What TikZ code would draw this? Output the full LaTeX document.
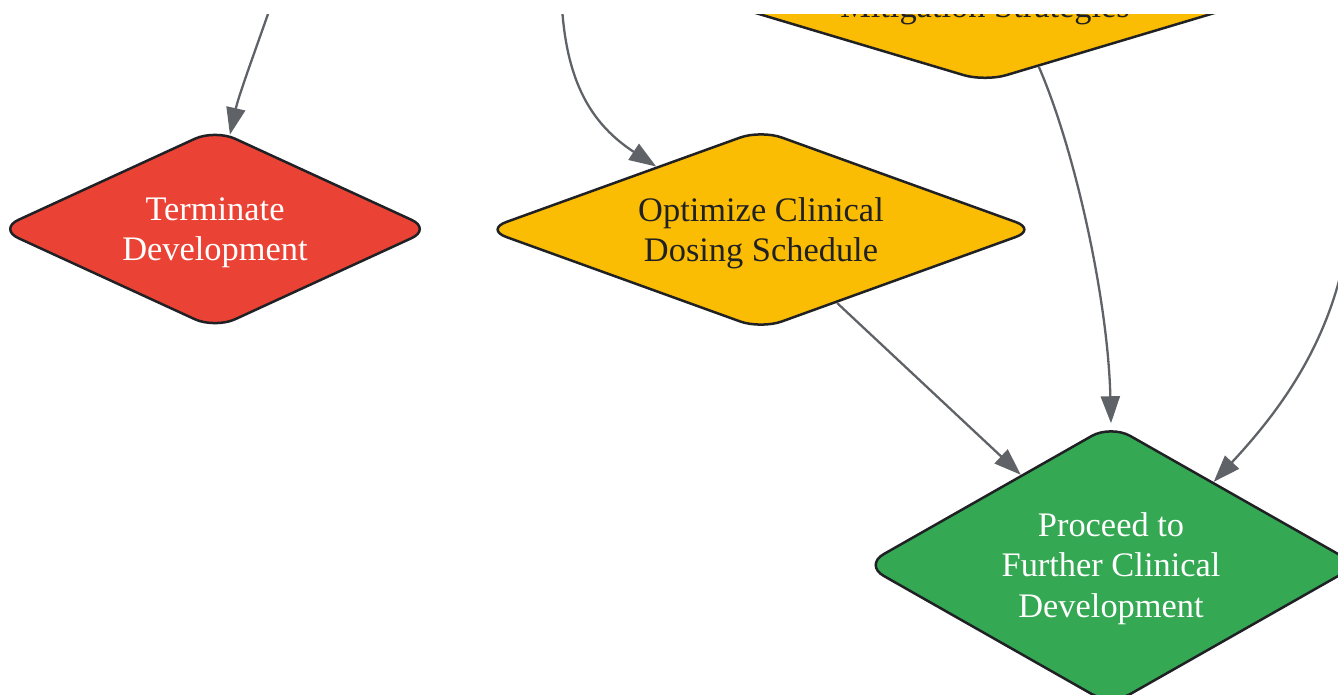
\documentclass[tikz,border=0pt]{standalone}
\usepackage{fontspec}
\setmainfont{Liberation Serif}
\usetikzlibrary{positioning, shapes.geometric, arrows.meta}

\definecolor{termred}{HTML}{EA4335}
\definecolor{optyellow}{HTML}{FBBC04}
\definecolor{progreen}{HTML}{34A853}
\definecolor{linedark}{HTML}{202124}
\definecolor{arrowgray}{HTML}{5F6368}

\begin{document}
\begin{tikzpicture}[x=1pt, y=-1pt,
    decision/.style={diamond, draw=linedark, line width=2.5pt, rounded corners=22pt,
      align=center, inner sep=0pt, text depth=0pt, font=\fontsize{34.4}{40.5}\selectfont},
    flow/.style={->, draw=arrowgray, line width=2.3pt},
    >={Triangle[length=27pt, width=19pt]}]

    \useasboundingbox (0,0) rectangle (1338,694);
    \clip (0,14) rectangle (1338,694);

    \node[decision, fill=optyellow, aspect=3.34, minimum width=654pt, minimum height=196pt] (mitig) at (985,-16) {};
    \node[anchor=base, text=linedark, font=\fontsize{34.4}{40.5}\selectfont] (mitiglabel) at (985,17) {Mitigation Strategies};
    \node[decision, fill=termred, text=white, aspect=2.17, minimum width=434pt, minimum height=200pt] (term) at (215,229) {Terminate\\Development};
    \node[decision, fill=optyellow, text=linedark, aspect=2.76, minimum width=552pt, minimum height=200pt] (opt) at (761,229.5) {Optimize Clinical\\Dosing Schedule};
    \node[decision, fill=progreen, text=white, aspect=1.76, minimum width=494pt, minimum height=281pt] (proceed) at (1111,565) {Proceed to\\Further Clinical\\Development};

    \coordinate (fromleft) at (290,-50);
    \coordinate (frommid) at (561,-30);
    \coordinate (fromright) at (1352,200);

    \draw[flow] (fromleft) .. controls (265,25) and (240,90) .. (term.81);
    \draw[flow] (frommid) .. controls (560,70) and (585,120) .. (opt.149);
    \draw[flow] (mitig.-57) .. controls (1075,150) and (1108,300) .. (proceed.north);
    \draw[flow] (fromright) .. controls (1345,320) and (1290,400) .. (proceed.39);
    \draw[flow] (opt.-44) -- (proceed.135);
  \end{tikzpicture}
\end{document}
